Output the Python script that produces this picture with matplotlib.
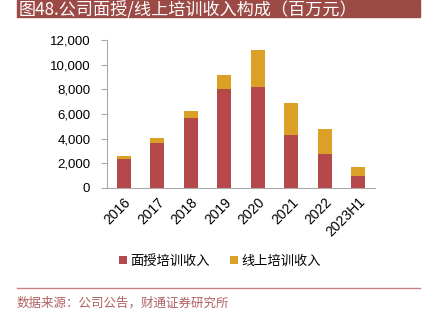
import numpy as np
import matplotlib.pyplot as plt
from matplotlib.patches import Rectangle
from matplotlib.ticker import FuncFormatter

plt.rcParams['font.family'] = ['Liberation Sans', 'Noto Sans CJK SC', 'DejaVu Sans']

# data (百万元)
years = ['2016', '2017', '2018', '2019', '2020', '2021', '2022', '2023H1']
offline = [2330, 3670, 5700, 8030, 8160, 4300, 2780, 970]
online = [270, 360, 540, 1110, 3000, 2570, 2000, 730]

title = '图48.公司面授/线上培训收入构成（百万元）'
source = '数据来源：公司公告，财通证券研究所'

red = '#B5484A'
gold = '#DBA026'

fig = plt.figure(figsize=(4.34, 3.28), dpi=100)
W, H = 434, 328

# title bar
fig.patches.append(Rectangle((17 / W, 1 - 17 / H), 403 / W, 17 / H,
                             transform=fig.transFigure, color='#9B4A45', zorder=0))
fig.text(19 / W, 1 - 9 / H, title, color='white', fontsize=12.3,
         family=['Noto Sans CJK SC', 'DejaVu Sans'], va='center', ha='left')

ax = fig.add_axes([107 / W, 1 - 188 / H, 268 / W, 148 / H])
x = np.arange(len(years))
ax.bar(x, offline, width=0.42, color=red, label='面授培训收入')
ax.bar(x, online, width=0.42, bottom=offline, color=gold, label='线上培训收入')

ax.set_xlim(-0.5, len(years) - 0.5)
ax.set_ylim(0, 12000)
ax.set_yticks(np.arange(0, 12001, 2000))
ax.yaxis.set_major_formatter(FuncFormatter(lambda v, p: f'{int(v):,}'))
ax.set_xticks(x)
ax.set_xticklabels(years, rotation=45, ha='right', rotation_mode='anchor')
ax.tick_params(axis='x', length=0, labelsize=10, pad=5)
ax.tick_params(axis='y', length=4, color='#aaaaaa', labelsize=9.5, pad=8)
for s in ['top', 'right']:
    ax.spines[s].set_visible(False)
ax.spines['left'].set_color('#aaaaaa')
ax.spines['bottom'].set_color('#aaaaaa')

fig.legend(loc='center', bbox_to_anchor=(220 / W, 1 - 261 / H), ncol=2, frameon=False,
           prop={'family': ['Noto Sans CJK SC', 'DejaVu Sans'], 'size': 9.5},
           handlelength=0.6, handleheight=0.6, handletextpad=0.3, columnspacing=1.5)

fig.add_artist(plt.Line2D([17 / W, 420 / W], [1 - 288 / H, 1 - 288 / H],
                          transform=fig.transFigure, color='#C98080', lw=1))
fig.text(17 / W, 1 - 303 / H, source, color='#B06060', fontsize=9,
         family=['Noto Sans CJK SC', 'DejaVu Sans'], va='center', ha='left')

fig.savefig('out.png', dpi=100)
